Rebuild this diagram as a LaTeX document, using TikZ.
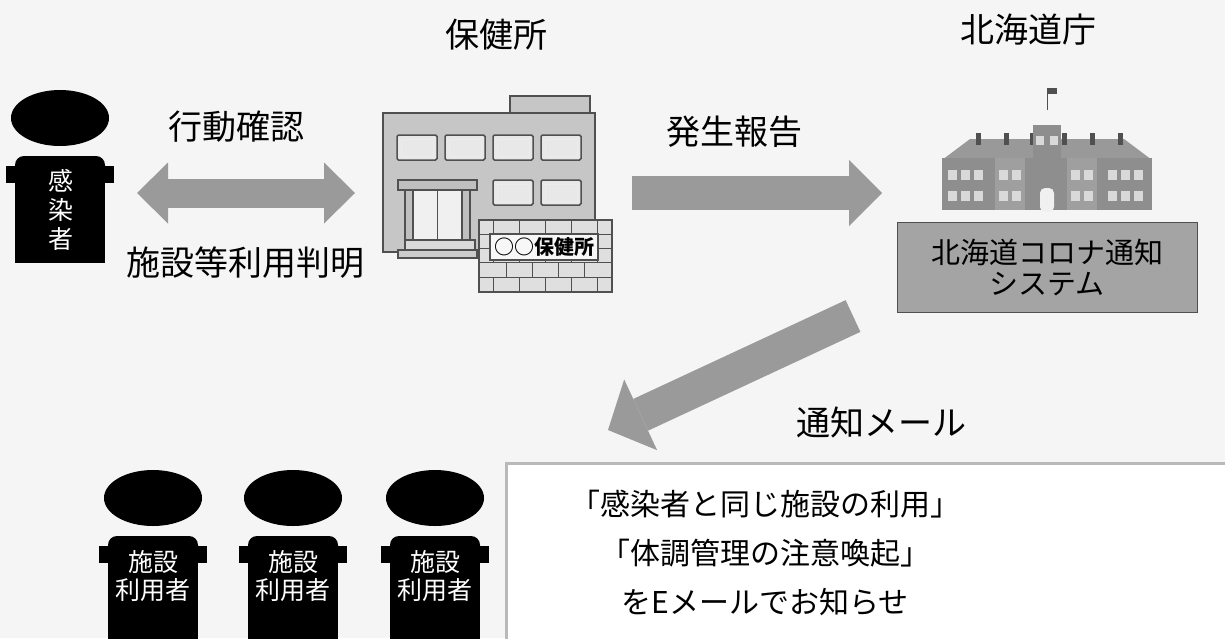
\documentclass[tikz,border=0pt]{standalone}
\usepackage{fontspec}
\setmainfont{Noto Sans CJK JP}
\usetikzlibrary{arrows.meta,positioning}

\definecolor{paperBg}{HTML}{F5F5F5}
\definecolor{flowGray}{HTML}{9A9A9A}
\definecolor{wallGray}{HTML}{C6C6C6}
\definecolor{lineGray}{HTML}{505050}
\definecolor{sysGray}{HTML}{A4A4A4}
\definecolor{govGray}{HTML}{8E8E8E}

% black figure: head, trunk and shoulders (x, head y, trunk bottom)
\newcommand{\drawperson}[3]{%
  \begin{scope}[shift={(#1,#2)}]
    \fill (0,0) ellipse [x radius=49, y radius=28];
    \fill[rounded corners=9] (-45,38) rectangle (45,70);
    \fill (-45,56) rectangle (45,#3-#2);
    \fill (-54,48) rectangle (54,65);
  \end{scope}}

\begin{document}
\begin{tikzpicture}[x=1pt,y=-1pt,
  label/.style={font=\fontsize{34}{40}\selectfont, inner sep=0pt},
  badge/.style={text=white, align=center, inner sep=0pt},
  win/.style={draw=lineGray, line width=1.5pt, fill=gray!18, rounded corners=1.5pt},
  sysbox/.style={draw=lineGray, line width=1pt, fill=sysGray, minimum width=300,
    minimum height=90, align=center, font=\fontsize{29}{31}\selectfont},
  msgbox/.style={align=center, font=\fontsize{30}{49}\selectfont, inner sep=0pt},
  flowDbl/.style={draw=flowGray, line width=29pt,
    {Triangle[length=31pt,width=61pt,line width=0pt]}-{Triangle[length=31pt,width=61pt,line width=0pt]}},
  flowOne/.style={draw=flowGray, line width=34pt,
    -{Triangle[length=33pt,width=66pt,line width=0pt]}},
  flowDiag/.style={draw=flowGray, line width=35pt,
    -{Triangle[length=36pt,width=78pt,line width=0pt]}}]
  \useasboundingbox (0,0) rectangle (1225,638);
  \clip (0,0) rectangle (1225,638);
  \fill[paperBg] (0,0) rectangle (1225,638);

  % infected person
  \drawperson{60}{118}{263}
  \node[badge, font=\fontsize{25}{29}\selectfont] (patient) at (61,210) {感\\染\\者};

  % health centre
  \node[label] (hcTitle) at (496,35) {保健所};
  \draw[line width=1.5pt, draw=lineGray, fill=wallGray] (510,96) rectangle (590,113);
  \node[draw=lineGray, line width=1.5pt, fill=wallGray, minimum width=212,
    minimum height=139, inner sep=0pt] (hc) at (489,182.5) {};
  \foreach \wx in {397,445,493,541} {
    \draw[win] (\wx,135) rectangle ++(40,25);
    \draw[white!85!gray] (\wx+4,139) rectangle ++(32,17);
  }
  \foreach \wx in {493,541} {
    \draw[win] (\wx,180) rectangle ++(40,25);
    \draw[white!85!gray] (\wx+4,184) rectangle ++(32,17);
  }
  \draw[line width=1.2pt, draw=lineGray, fill=gray!12] (413,190) rectangle (462,240);
  \draw[lineGray] (437.5,190) -- (437.5,240);
  \draw[line width=1.2pt, draw=lineGray, fill=gray!50] (405,190) rectangle (413,240);
  \draw[line width=1.2pt, draw=lineGray, fill=gray!50] (462,190) rectangle (470,240);
  \draw[line width=1.2pt, draw=lineGray, fill=gray!50] (398,180) rectangle (477,190);
  \draw[line width=1.2pt, draw=lineGray, fill=gray!30] (405,240) rectangle (475,250);
  \draw[line width=1.2pt, draw=lineGray, fill=gray!40] (398,250) rectangle (477,258);
  % brick wall with the name plate
  \draw[line width=1.5pt, draw=lineGray, fill=gray!25] (479,220) rectangle (612,292);
  \foreach \by in {234,248,262,277}
    \draw[lineGray] (479,\by) -- (612,\by);
  \foreach \by/\ty in {220/234,248/262,277/292}
    \foreach \jx in {493,519,545,571,597}
      \draw[lineGray] (\jx,\by) -- (\jx,\ty);
  \foreach \by/\ty in {234/248,262/277}
    \foreach \jx in {506,532,558,584}
      \draw[lineGray] (\jx,\by) -- (\jx,\ty);
  \node[draw=lineGray, line width=1.2pt, fill=gray!6, minimum width=108,
    minimum height=26, inner sep=0pt, font=\fontsize{20}{22}\selectfont\bfseries]
    (plate) at (544,247) {○○保健所};

  % prefectural office
  \node[label] (govTitle) at (1028,30) {北海道庁};
  \draw[lineGray] (1047,110) -- (1047,88);
  \fill[lineGray] (1047,88) rectangle (1057,94);
  \fill[govGray!90] (942,160) -- (970,139) -- (1124,139) -- (1152,160) -- cycle;
  \foreach \cx in {976,1004,1030,1062,1090,1118}
    \fill[lineGray] (\cx,133) rectangle ++(5,12);
  \fill[govGray] (1033,125) rectangle (1061,160);
  \fill[govGray] (1033,125) arc[start angle=180, end angle=0, radius=14];
  \fill[govGray] (942,158) rectangle (1152,210);
  \fill[gray!75] (995,158) rectangle (1025,210);
  \fill[gray!75] (1067,158) rectangle (1097,210);
  \foreach \wy in {170,191}
    \foreach \wx in {948,961,974,999,1012,1071,1084,1108,1121,1134}
      \fill[gray!30] (\wx,\wy) rectangle ++(9,10);
  \foreach \wx in {1036,1050}
    \fill[gray!30] (\wx,136) rectangle ++(8,9);
  \fill[gray!12, rounded corners=5pt] (1040,188) rectangle (1054,212);
  \node[sysbox] (sys) at (1047,267) {北海道コロナ通知\\システム};

  % flow arrows
  \coordinate (chkL) at (137,193);
  \coordinate (chkR) at (355,193);
  \coordinate (repA) at (632,193);
  \coordinate (repB) at (882,193);
  \coordinate (mailA) at (853,316);
  \coordinate (mailB) at (608,430);
  \draw[flowDbl] (chkL) -- (chkR);
  \draw[flowOne] (repA) -- (repB);
  \draw[flowDiag] (mailA) -- (mailB);
  \node[label] (lblCheck) at (236,127) {行動確認};
  \node[label] (lblFound) at (245,263) {施設等利用判明};
  \node[label] (lblReport) at (734,132) {発生報告};
  \node[label] (lblMail) at (881,423) {通知メール};

  % facility users
  \foreach \i/\px in {1/153,2/293,3/435} {
    \drawperson{\px}{498}{660}
    \node[badge, font=\fontsize{25}{28}\selectfont] (user\i) at (\px,576) {施設\\利用者};
  }

  % e-mail message
  \draw[line width=3pt, draw=gray!55, fill=white] (506,463) rectangle (1240,660);
  \node[msgbox] (msg) at (765,553)
    {「感染者と同じ施設の利用」\\「体調管理の注意喚起」\\をEメールでお知らせ};
\end{tikzpicture}
\end{document}
